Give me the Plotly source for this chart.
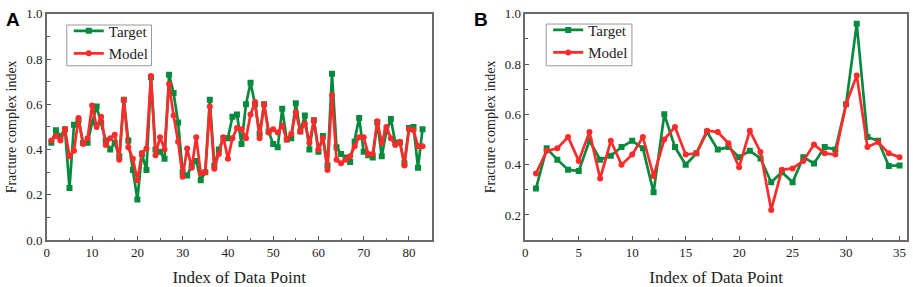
import plotly.graph_objects as go

# Panel A data
idx_a = list(range(1, 84))
target_a = [0.43, 0.485, 0.46, 0.49, 0.23, 0.51, 0.53, 0.43, 0.43, 0.52,
            0.59, 0.52, 0.44, 0.40, 0.43, 0.37, 0.62, 0.44, 0.31, 0.18,
            0.38, 0.31, 0.72, 0.40, 0.39, 0.36, 0.73, 0.65, 0.52, 0.30,
            0.285, 0.33, 0.35, 0.265, 0.30, 0.62, 0.33, 0.40, 0.45, 0.45,
            0.545, 0.555, 0.425, 0.60, 0.695, 0.60, 0.47, 0.60, 0.48, 0.425,
            0.41, 0.58, 0.445, 0.45, 0.605, 0.48, 0.55, 0.40, 0.53, 0.39,
            0.46, 0.33, 0.735, 0.41, 0.38, 0.365, 0.345, 0.435, 0.54, 0.39,
            0.375, 0.365, 0.52, 0.37, 0.48, 0.535, 0.43, 0.43, 0.34, 0.495,
            0.50, 0.32, 0.49]
model_a = [0.44, 0.46, 0.44, 0.49, 0.37, 0.395, 0.54, 0.425, 0.45, 0.595,
           0.50, 0.545, 0.42, 0.45, 0.465, 0.355, 0.62, 0.41, 0.36, 0.265,
           0.385, 0.405, 0.725, 0.375, 0.455, 0.40, 0.69, 0.55, 0.435, 0.28,
           0.405, 0.32, 0.455, 0.295, 0.30, 0.59, 0.315, 0.38, 0.455, 0.36,
           0.45, 0.495, 0.49, 0.45, 0.555, 0.61, 0.45, 0.60, 0.475, 0.49,
           0.475, 0.505, 0.445, 0.47, 0.565, 0.48, 0.515, 0.43, 0.53, 0.40,
           0.45, 0.31, 0.64, 0.355, 0.34, 0.355, 0.37, 0.415, 0.455, 0.455,
           0.38, 0.38, 0.525, 0.43, 0.50, 0.45, 0.42, 0.435, 0.33, 0.49,
           0.485, 0.415, 0.415]

# Panel B data
idx_b = list(range(1, 36))
target_b = [0.305, 0.465, 0.42, 0.38, 0.375, 0.495, 0.42, 0.435, 0.47, 0.495,
            0.465, 0.29, 0.60, 0.47, 0.40, 0.445, 0.53, 0.46, 0.47, 0.43,
            0.455, 0.425, 0.33, 0.37, 0.33, 0.43, 0.405, 0.47, 0.46, 0.64,
            0.96, 0.51, 0.495, 0.395, 0.397]
model_b = [0.365, 0.455, 0.465, 0.51, 0.415, 0.53, 0.345, 0.495, 0.40, 0.44,
           0.51, 0.355, 0.50, 0.55, 0.44, 0.445, 0.535, 0.53, 0.485, 0.39,
           0.535, 0.45, 0.22, 0.38, 0.385, 0.415, 0.48, 0.445, 0.44, 0.64,
           0.755, 0.47, 0.49, 0.445, 0.43]

y_ticks = [0.0, 0.2, 0.4, 0.6, 0.8, 1.0]

GREEN = "#078a3e"
RED = "#ff2a2a"
SERIF = "Liberation Serif"
W, H = 913, 287

fig = go.Figure()

def add(x, y, name, color, symbol, xa, ya, legend):
    fig.add_trace(go.Scatter(
        x=x, y=y, name=name, mode="lines+markers",
        line=dict(color=color, width=2.7),
        marker=dict(symbol=symbol, size=6, color=color),
        xaxis=xa, yaxis=ya, legend=legend))

add(idx_a, target_a, "Target", GREEN, "square", "x", "y", "legend")
add(idx_a, model_a, "Model", RED, "circle", "x", "y", "legend")
add(idx_b, target_b, "Target", GREEN, "square", "x2", "y2", "legend2")
add(idx_b, model_b, "Model", RED, "circle", "x2", "y2", "legend2")

ydom = [1 - 246 / H, 1 - 7 / H]
axis_common = dict(
    showline=True, linecolor="#6a6a6a", linewidth=1.5, mirror=True,
    ticks="inside", ticklen=4, tickcolor="#555", tickwidth=1,
    showgrid=False, zeroline=False, ticklabeloverflow="allow",
    tickfont=dict(family=SERIF, size=13, color="#222"),
)
title_x = dict(text="Index of Data Point", font=dict(family=SERIF, size=17, color="#222"), standoff=13)
title_y = dict(text="Fracture complex index", font=dict(family=SERIF, size=14, color="#222"), standoff=6)
ytext = ["%.1f" % v for v in y_ticks]

legend_common = dict(xanchor="left", yanchor="top", borderwidth=0,
                     bgcolor="rgba(0,0,0,0)",
                     font=dict(family=SERIF, size=15, color="#222"),
                     tracegroupgap=0, itemwidth=30)

fig.update_layout(
    width=W, height=H,
    margin=dict(l=0, r=0, t=0, b=0),
    plot_bgcolor="white", paper_bgcolor="white",
    font=dict(family=SERIF),
    showlegend=True,
    xaxis=dict(domain=[44 / W, 430 / W], range=[0, 85], dtick=10,
               minor=dict(ticks="inside", ticklen=2, dtick=5, tickcolor="#555"),
               title=title_x, anchor="y", **axis_common),
    yaxis=dict(domain=ydom, range=[0, 1.0005], tickmode="array",
               tickvals=y_ticks, ticktext=ytext,
               minor=dict(ticks="inside", ticklen=3, tickmode="array",
                          tickvals=[0.1, 0.3, 0.5, 0.7, 0.9], tickcolor="#555"),
               title=title_y, anchor="x", **axis_common),
    xaxis2=dict(domain=[524 / W, 907 / W], range=[0, 35.7], dtick=5,
                minor=dict(ticks="inside", ticklen=2, dtick=2.5, tickcolor="#555"),
                title=title_x, anchor="y2", **axis_common),
    yaxis2=dict(domain=ydom, range=[0.1, 1.0005], tickmode="array",
                tickvals=y_ticks[1:], ticktext=ytext[1:],
                minor=dict(ticks="inside", ticklen=3, tickmode="array",
                           tickvals=[0.3, 0.5, 0.7, 0.9], tickcolor="#555"),
                title=title_y, anchor="x2", **axis_common),
    legend=dict(x=66 / W, y=1 - 8 / H, **legend_common),
    legend2=dict(x=547 / W, y=1 - 7 / H, **legend_common),
    shapes=[
        dict(type="rect", xref="paper", yref="paper", layer="below",
             x0=64 / W, x1=149 / W, y0=1 - 62 / H, y1=1 - 19 / H,
             line=dict(color="#999", width=1), fillcolor="white"),
        dict(type="rect", xref="paper", yref="paper", layer="below",
             x0=545 / W, x1=631 / W, y0=1 - 62 / H, y1=1 - 18 / H,
             line=dict(color="#999", width=1), fillcolor="white"),
    ],
    annotations=[
        dict(text="<b>A</b>", x=1 / W, y=1 - 0 / H, xref="paper", yref="paper",
             xanchor="left", yanchor="top", showarrow=False,
             font=dict(family="Liberation Sans", size=19, color="black")),
        dict(text="<b>B</b>", x=471 / W, y=1 - 0 / H, xref="paper", yref="paper",
             xanchor="left", yanchor="top", showarrow=False,
             font=dict(family="Liberation Sans", size=19, color="black")),
    ],
)

fig.write_html("out.html", config={"displayModeBar": False},
               post_script="document.body.style.margin='0';")
